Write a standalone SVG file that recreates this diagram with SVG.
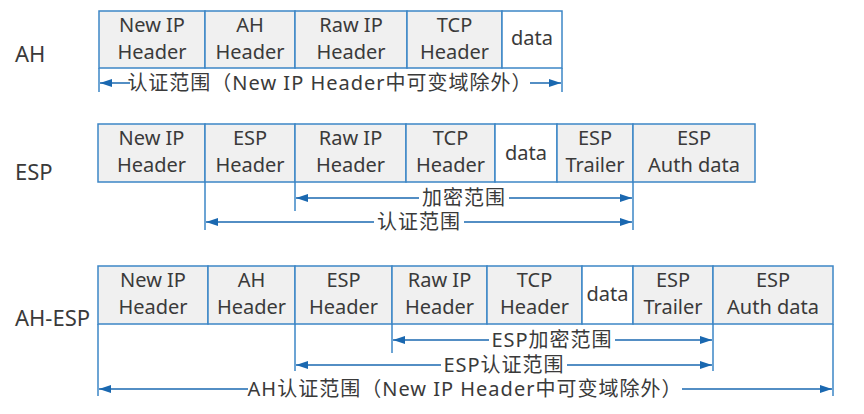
<svg xmlns="http://www.w3.org/2000/svg" width="864" height="414" viewBox="0 0 864 414">
<style>
text{font-family:"Noto Sans","Noto Sans CJK SC",sans-serif;fill:#3a3a3a}
.c{font-size:20px;text-anchor:middle}
.r{font-size:20px;letter-spacing:1px;text-anchor:middle}
.l{font-size:22px}
.cell{fill:#f0f0f0;stroke:#3d86c6;stroke-width:1.5}
.w{fill:#ffffff;stroke:#3d86c6;stroke-width:1.5}
.ext{stroke:#3d86c6;stroke-width:1.5;fill:none}
.arr{stroke:#1a68b0;stroke-width:1.5;fill:none;marker-end:url(#ah)}
</style>
<defs>
<marker id="ah" viewBox="0 0 12 8" refX="12" refY="4" markerWidth="12" markerHeight="8" markerUnits="userSpaceOnUse" orient="auto">
<path d="M0,0 L12,4 L0,8 Z" fill="#1a68b0"/>
</marker>
</defs>
<rect width="864" height="414" fill="#ffffff"/>

<g id="labels">
<text class="l" x="15" y="62">AH</text>
<text class="l" x="15" y="180">ESP</text>
<text class="l" x="15" y="326">AH-ESP</text>
</g>

<g id="row-ah">
<g id="ah-newip"><rect class="cell" x="99" y="11" width="106" height="57"/><text class="c" x="152" y="32">New IP</text><text class="c" x="152" y="59">Header</text></g>
<g id="ah-ah"><rect class="cell" x="205" y="11" width="90" height="57"/><text class="c" x="250" y="32">AH</text><text class="c" x="250" y="59">Header</text></g>
<g id="ah-rawip"><rect class="cell" x="295" y="11" width="112" height="57"/><text class="c" x="351" y="32">Raw IP</text><text class="c" x="351" y="59">Header</text></g>
<g id="ah-tcp"><rect class="cell" x="407" y="11" width="95" height="57"/><text class="c" x="454.5" y="32">TCP</text><text class="c" x="454.5" y="59">Header</text></g>
<g id="ah-data"><rect class="w" x="502" y="11" width="60" height="57"/><text class="c" x="532" y="45">data</text></g>
</g>

<g id="row-esp">
<g id="esp-newip"><rect class="cell" x="98" y="124" width="107" height="58"/><text class="c" x="151.5" y="145">New IP</text><text class="c" x="151.5" y="172">Header</text></g>
<g id="esp-esp"><rect class="cell" x="205" y="124" width="90" height="58"/><text class="c" x="250" y="145">ESP</text><text class="c" x="250" y="172">Header</text></g>
<g id="esp-rawip"><rect class="cell" x="295" y="124" width="111" height="58"/><text class="c" x="350.5" y="145">Raw IP</text><text class="c" x="350.5" y="172">Header</text></g>
<g id="esp-tcp"><rect class="cell" x="406" y="124" width="89" height="58"/><text class="c" x="450.5" y="145">TCP</text><text class="c" x="450.5" y="172">Header</text></g>
<g id="esp-data"><rect class="w" x="495" y="124" width="62" height="58"/><text class="c" x="526" y="160">data</text></g>
<g id="esp-trailer"><rect class="cell" x="557" y="124" width="76" height="58"/><text class="c" x="595" y="145">ESP</text><text class="c" x="595" y="172">Trailer</text></g>
<g id="esp-auth"><rect class="cell" x="633" y="124" width="122" height="58"/><text class="c" x="694" y="145">ESP</text><text class="c" x="694" y="172">Auth data</text></g>
</g>

<g id="row-ahesp">
<g id="ae-newip"><rect class="cell" x="98" y="266" width="110" height="58"/><text class="c" x="153" y="287">New IP</text><text class="c" x="153" y="314">Header</text></g>
<g id="ae-ah"><rect class="cell" x="208" y="266" width="87" height="58"/><text class="c" x="251.5" y="287">AH</text><text class="c" x="251.5" y="314">Header</text></g>
<g id="ae-esp"><rect class="cell" x="295" y="266" width="97" height="58"/><text class="c" x="343.5" y="287">ESP</text><text class="c" x="343.5" y="314">Header</text></g>
<g id="ae-rawip"><rect class="cell" x="392" y="266" width="95" height="58"/><text class="c" x="439.5" y="287">Raw IP</text><text class="c" x="439.5" y="314">Header</text></g>
<g id="ae-tcp"><rect class="cell" x="487" y="266" width="95" height="58"/><text class="c" x="534.5" y="287">TCP</text><text class="c" x="534.5" y="314">Header</text></g>
<g id="ae-data"><rect class="w" x="582" y="266" width="51" height="58"/><text class="c" x="607.5" y="301">data</text></g>
<g id="ae-trailer"><rect class="cell" x="633" y="266" width="80" height="58"/><text class="c" x="673" y="287">ESP</text><text class="c" x="673" y="314">Trailer</text></g>
<g id="ae-auth"><rect class="cell" x="713" y="266" width="120" height="58"/><text class="c" x="773" y="287">ESP</text><text class="c" x="773" y="314">Auth data</text></g>
</g>

<g id="connectors">
<path class="ext" d="M99,68 V92 M562,68 V92"/>
<path class="arr" d="M130,83 H100"/>
<path class="arr" d="M530,83 H561"/>

<path class="ext" d="M295,182 V211 M205,182 V230 M633,182 V230"/>
<path class="arr" d="M419,198 H296"/>
<path class="arr" d="M509,198 H632"/>
<path class="arr" d="M374,222 H206"/>
<path class="arr" d="M464,222 H632"/>

<path class="ext" d="M392,324 V353 M295,324 V371 M713,324 V371 M98,324 V396 M833,324 V396"/>
<path class="arr" d="M489,340 H393"/>
<path class="arr" d="M615,340 H712"/>
<path class="arr" d="M441,365 H296"/>
<path class="arr" d="M567,365 H712"/>
<path class="arr" d="M248,389 H99"/>
<path class="arr" d="M682,389 H832"/>
</g>

<g id="range-labels">
<text class="r" x="330" y="90">认证范围（New IP Header中可变域除外）</text>
<text class="r" x="464" y="205">加密范围</text>
<text class="r" x="419" y="229">认证范围</text>
<text class="r" x="552" y="347">ESP加密范围</text>
<text class="r" x="504" y="372">ESP认证范围</text>
<text class="r" x="465" y="396">AH认证范围（New IP Header中可变域除外）</text>
</g>
</svg>
